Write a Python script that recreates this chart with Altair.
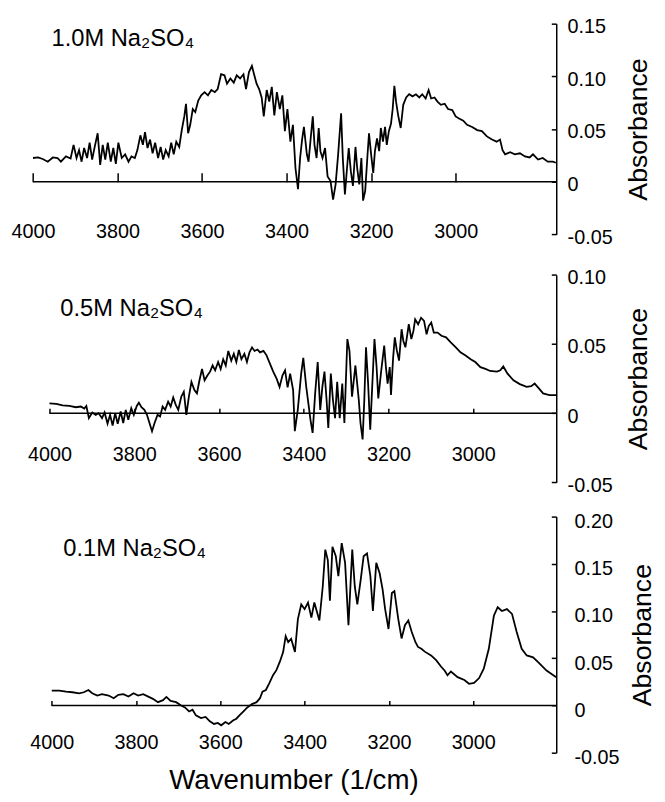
import altair as alt
import pandas as pd

# ---------------- data ----------------
WN_10 = [4000, 3988, 3977, 3965, 3953, 3942, 3934, 3922, 3911, 3904, 3897, 3891, 3885, 3879, 3872, 3866,
         3860, 3854, 3847, 3841, 3835, 3829, 3823, 3816, 3810, 3804, 3798, 3790, 3782, 3774, 3767, 3759,
         3753, 3746, 3740, 3735, 3729, 3723, 3717, 3711, 3704, 3698, 3692, 3686, 3679, 3673, 3667, 3661,
         3654, 3648, 3642, 3638, 3633, 3628, 3622, 3616, 3609, 3602, 3594, 3586, 3578, 3570, 3563, 3555,
         3547, 3541, 3533, 3525, 3518, 3510, 3502, 3496, 3489, 3482, 3477, 3471, 3465, 3459, 3454, 3447,
         3441, 3435, 3429, 3423, 3416, 3410, 3404, 3398, 3391, 3385, 3379, 3373, 3368, 3363, 3359, 3352,
         3348, 3343, 3338, 3334, 3329, 3324, 3320, 3315, 3309, 3303, 3296, 3290, 3284, 3278, 3271, 3267,
         3262, 3257, 3253, 3248, 3243, 3237, 3233, 3228, 3223, 3219, 3214, 3209, 3205, 3200, 3195, 3191,
         3186, 3181, 3177, 3172, 3167, 3163, 3158, 3153, 3149, 3145, 3141, 3136, 3130, 3124, 3117, 3110,
         3102, 3094, 3086, 3079, 3071, 3064, 3058, 3050, 3043, 3035, 3026, 3018, 3008, 3000, 2992, 2982,
         2973, 2961, 2949, 2938, 2926, 2914, 2903, 2895, 2889, 2883, 2871, 2860, 2848, 2836, 2825, 2817,
         2805, 2794, 2782, 2770, 2763]
AB_10 = [0.0225, 0.023, 0.0216, 0.019, 0.023, 0.0225, 0.019, 0.024, 0.022, 0.035, 0.0225, 0.030, 0.019, 0.032, 0.0225, 0.037,
         0.021, 0.033, 0.046, 0.016, 0.035, 0.021, 0.037, 0.019, 0.032, 0.017, 0.037, 0.0225, 0.026, 0.019, 0.024, 0.0225,
         0.030, 0.044, 0.035, 0.047, 0.032, 0.040, 0.027, 0.037, 0.0225, 0.033, 0.021, 0.030, 0.024, 0.037, 0.026, 0.038,
         0.033, 0.049, 0.062, 0.074, 0.046, 0.054, 0.069, 0.066, 0.077, 0.082, 0.085, 0.082, 0.087, 0.085, 0.088, 0.102,
         0.101, 0.093, 0.098, 0.094, 0.101, 0.098, 0.102, 0.088, 0.104, 0.110, 0.102, 0.093, 0.088, 0.080, 0.062, 0.087,
         0.076, 0.090, 0.063, 0.085, 0.069, 0.082, 0.048, 0.069, 0.038, 0.054, 0.013, -0.007, 0.0225, 0.041, 0.052, 0.026,
         0.019, 0.041, 0.062, 0.035, 0.0225, 0.051, 0.029, 0.0225, 0.032, 0.005, 0.0006, -0.017, -0.0025, 0.026, 0.065, 0.0225,
         -0.012, 0.013, 0.032, 0.010, -0.004, 0.033, 0.013, -0.0025, 0.0225, -0.018, -0.0088, 0.0225, 0.046, 0.026, 0.0084, 0.029,
         0.041, 0.029, 0.051, 0.038, 0.052, 0.035, 0.048, 0.055, 0.069, 0.091, 0.076, 0.063, 0.051, 0.073, 0.080, 0.083,
         0.081, 0.083, 0.080, 0.083, 0.079, 0.087, 0.079, 0.080, 0.076, 0.073, 0.074, 0.069, 0.068, 0.062, 0.060, 0.058,
         0.054, 0.052, 0.049, 0.048, 0.043, 0.040, 0.038, 0.040, 0.030, 0.026, 0.028, 0.026, 0.027, 0.024, 0.023, 0.026,
         0.021, 0.0225, 0.019, 0.019, 0.018]

WN_05 = [4000, 3984, 3969, 3953, 3938, 3926, 3918, 3913, 3907, 3899, 3891, 3884, 3876, 3870, 3863, 3857,
         3851, 3845, 3839, 3832, 3826, 3820, 3814, 3807, 3801, 3794, 3789, 3783, 3776, 3770, 3764, 3758,
         3752, 3745, 3739, 3733, 3727, 3720, 3714, 3708, 3702, 3696, 3689, 3683, 3677, 3671, 3665, 3658,
         3652, 3646, 3640, 3634, 3627, 3621, 3615, 3609, 3602, 3596, 3590, 3584, 3578, 3571, 3565, 3559,
         3553, 3547, 3540, 3534, 3528, 3522, 3516, 3509, 3503, 3495, 3488, 3480, 3472, 3464, 3457, 3450,
         3444, 3438, 3432, 3425, 3421, 3414, 3406, 3401, 3394, 3388, 3384, 3379, 3373, 3367, 3361, 3356,
         3351, 3346, 3342, 3336, 3331, 3326, 3321, 3315, 3309, 3304, 3297, 3292, 3286, 3278, 3270, 3266,
         3261, 3257, 3253, 3248, 3243, 3238, 3233, 3228, 3224, 3217, 3210, 3206, 3202, 3197, 3194, 3189,
         3185, 3180, 3175, 3169, 3165, 3160, 3152, 3146, 3141, 3137, 3130, 3123, 3116, 3110, 3105, 3099,
         3093, 3084, 3075, 3064, 3053, 3041, 3030, 3018, 3006, 2995, 2983, 2971, 2960, 2944, 2936, 2929,
         2919, 2905, 2890, 2874, 2863, 2855, 2845, 2835, 2820, 2804]
AB_05 = [0.0071, 0.0067, 0.0057, 0.0052, 0.0043, 0.0048, 0.0033, 0.0052, -0.0036, 0.0005, -0.0012, 0.0, -0.0036, 0.0005, -0.0076, -0.0012,
         -0.009, 0.0, -0.0076, 0.0012, -0.0071, 0.0024, -0.0048, 0.0036, -0.0012, 0.0052, 0.0076, 0.0043, 0.0024, -0.0012, -0.0071, -0.013,
         -0.0071, -0.0012, -0.0024, 0.0048, 0.0024, 0.0083, 0.0048, 0.0114, 0.006, 0.0024, 0.0119, 0.0155, -0.0012, 0.0119, 0.0226, 0.0167,
         0.0143, 0.0238, 0.032, 0.0238, 0.0274, 0.030, 0.0345, 0.031, 0.037, 0.032, 0.039, 0.0345, 0.045, 0.038, 0.043, 0.037,
         0.0457, 0.039, 0.043, 0.037, 0.044, 0.0476, 0.045, 0.046, 0.044, 0.045, 0.042, 0.036, 0.030, 0.025, 0.019, 0.0274,
         0.031, 0.0186, 0.0286, 0.0167, -0.013, 0.0024, 0.0286, 0.040, 0.019, 0.0048, -0.0048, -0.0143, 0.0143, 0.037, 0.0024, 0.019,
         0.030, 0.0095, -0.0107, 0.0286, 0.0095, -0.0036, 0.0226, -0.0036, 0.0214, -0.0071, 0.0536, 0.045, 0.0119, 0.0345, 0.0095, -0.0071,
         -0.019, 0.0095, 0.0476, 0.0214, -0.0119, 0.0214, 0.0536, 0.0333, 0.0107, 0.031, 0.0488, 0.0333, 0.0214, 0.0333, 0.0131, 0.040,
         0.0548, 0.045, 0.038, 0.0607, 0.0524, 0.0476, 0.0643, 0.0536, 0.0595, 0.0679, 0.0643, 0.069, 0.0667, 0.057, 0.063, 0.0655,
         0.0583, 0.0583, 0.056, 0.0548, 0.0512, 0.0476, 0.044, 0.0417, 0.039, 0.037, 0.0333, 0.032, 0.0305, 0.030, 0.031, 0.0338,
         0.0286, 0.0238, 0.021, 0.019, 0.0195, 0.0214, 0.0179, 0.0143, 0.0131, 0.0131]

WN_01 = [4000, 3982, 3966, 3951, 3935, 3924, 3913, 3904, 3892, 3881, 3865, 3853, 3842, 3830, 3818, 3806,
         3795, 3783, 3771, 3760, 3748, 3736, 3728, 3718, 3705, 3693, 3684, 3674, 3666, 3658, 3646, 3635,
         3625, 3615, 3606, 3598, 3588, 3580, 3570, 3562, 3553, 3545, 3536, 3525, 3514, 3506, 3500, 3492,
         3484, 3475, 3467, 3459, 3451, 3445, 3439, 3432, 3423, 3416, 3408, 3400, 3392, 3384, 3377, 3365,
         3357, 3351, 3345, 3340, 3334, 3326, 3320, 3312, 3304, 3296, 3287, 3281, 3275, 3267, 3260, 3252,
         3244, 3238, 3230, 3222, 3215, 3209, 3201, 3193, 3187, 3178, 3170, 3162, 3154, 3146, 3137, 3131,
         3123, 3115, 3100, 3088, 3076, 3068, 3061, 3053, 3037, 3021, 3010, 2998, 2986, 2975, 2963, 2951,
         2942, 2932, 2920, 2908, 2897, 2885, 2873, 2858, 2846, 2826, 2803]
AB_01 = [0.0157, 0.0157, 0.0147, 0.014, 0.0129, 0.014, 0.0164, 0.0129, 0.0105, 0.0119, 0.0105, 0.0077, 0.0112, 0.0119, 0.0094, 0.0129,
         0.0105, 0.0119, 0.0094, 0.007, 0.0035, 0.0056, 0.0091, 0.0049, 0.0035, 0.0, -0.0021, -0.0063, -0.0045, -0.0105, -0.0133, -0.0122,
         -0.0168, -0.0196, -0.0185, -0.021, -0.0175, -0.0196, -0.016, -0.014, -0.0098, -0.0063, -0.0021, 0.0014, 0.0035, 0.0077, 0.0147, 0.0164,
         0.0234, 0.0321, 0.0374, 0.0461, 0.0566, 0.0734, 0.0671, 0.0706, 0.0566, 0.0915, 0.107, 0.102, 0.109, 0.093, 0.109, 0.090,
         0.126, 0.165, 0.154, 0.111, 0.168, 0.158, 0.137, 0.172, 0.151, 0.085, 0.165, 0.126, 0.107, 0.133, 0.158, 0.161,
         0.137, 0.100, 0.151, 0.140, 0.123, 0.102, 0.081, 0.119, 0.121, 0.092, 0.071, 0.085, 0.090, 0.078, 0.067, 0.062,
         0.060, 0.057, 0.053, 0.048, 0.041, 0.037, 0.032, 0.036, 0.030, 0.027, 0.023, 0.024, 0.029, 0.039, 0.060, 0.095,
         0.104, 0.100, 0.102, 0.097, 0.078, 0.060, 0.053, 0.051, 0.046, 0.037, 0.030]

X_TICKS = [4000, 3800, 3600, 3400, 3200, 3000]
Y_TICKS = [[-0.05, 0, 0.05, 0.10, 0.15],
           [-0.05, 0, 0.05, 0.10],
           [-0.05, 0, 0.05, 0.10, 0.15, 0.20]]
PANEL_LABELS = ["1.0M Na\u2082SO\u2084", "0.5M Na\u2082SO\u2084", "0.1M Na\u2082SO\u2084"]
Y_TITLE = "Absorbance"
X_TITLE = "Wavenumber (1/cm)"

# ---------------- layout ----------------
W, H = 555, 790
FONT = "Liberation Sans"
LAYOUT = [
    dict(wn=WN_10, ab=AB_10, xdom=[4000, 2762], xr=[25.3, W], ydom=[-0.05, 0.15], yr=[224.3, 11],
         tick=9, lab_y=221, lab_pad=11, lab_off=3, tx=83, lx=44, ly=34),
    dict(wn=WN_05, ab=AB_05, xdom=[4000, 2804], xr=[42, W], ydom=[-0.05, 0.10], yr=[475.3, 265.3],
         tick=5, lab_y=447, lab_pad=11, lab_off=3, tx=83, lx=53, ly=307),
    dict(wn=WN_01, ab=AB_01, xdom=[4000, 2803], xr=[44.3, W], ydom=[-0.05, 0.20], yr=[749, 510],
         tick=5, lab_y=739, lab_pad=18, lab_off=5, tx=87, lx=56, ly=550),
]

YLABEL_EXPR = ("abs(datum.value) < 1e-9 ? '0' : (datum.value < 0 ? '-' + format(-datum.value, '.2f')"
               " : format(datum.value, '.2f'))")

layers = []
for i, p in enumerate(LAYOUT):
    xs = alt.Scale(domain=p["xdom"], range=p["xr"], nice=False, zero=False)
    ys = alt.Scale(domain=p["ydom"], range=p["yr"], nice=False, zero=False)
    y0, y1 = p["ydom"]
    zero_px = p["yr"][0] + (0 - y0) / (y1 - y0) * (p["yr"][1] - p["yr"][0])
    mid_y = (p["yr"][0] + p["yr"][1]) / 2

    xaxis_kw = dict(orient="bottom", offset=p["lab_y"] - H, values=X_TICKS, format="d",
                    domain=False, ticks=False, tickSize=0, grid=False, labelPadding=0,
                    labelBaseline="middle", labelFlush=False, labelOverlap=False,
                    labelFontSize=20, labelFont=FONT, labelColor="black")
    if i == 2:
        xaxis_kw.update(title=X_TITLE, titleFont=FONT, titleFontSize=28, titleFontWeight="normal",
                        titleColor="black", titleX=289, titleY=38, titleAlign="center",
                        titleBaseline="middle")
    else:
        xaxis_kw.update(title=None)

    df = pd.DataFrame({"wn": p["wn"], "ab": p["ab"]})
    line = alt.Chart(df).mark_line(color="black", strokeWidth=1.8).encode(
        x=alt.X("wn:Q", scale=xs, axis=alt.Axis(**xaxis_kw)),
        y=alt.Y("ab:Q", scale=ys, axis=alt.Axis(
            orient="right", values=Y_TICKS[i], labelExpr=YLABEL_EXPR,
            domain=True, domainColor="black", domainWidth=1.5,
            ticks=False, tickSize=0, grid=False,
            labelPadding=p["lab_pad"], labelAlign="left", labelBaseline="middle",
            labelOffset=p["lab_off"], labelFlush=False, labelOverlap=False,
            labelFontSize=20, labelFont=FONT, labelColor="black",
            title=Y_TITLE, titleFont=FONT, titleFontSize=27, titleFontWeight="normal",
            titleColor="black", titleAngle=270, titleX=p["tx"], titleY=mid_y,
            titleAlign="center", titleBaseline="middle")),
    )

    zdf = pd.DataFrame({"a": [4000], "b": [p["xdom"][1]], "z": [0.0]})
    rule = alt.Chart(zdf).mark_rule(color="black", strokeWidth=1.5).encode(
        x=alt.X("a:Q", scale=xs, axis=alt.Axis(
            orient="top", offset=-zero_px, values=X_TICKS, domain=False, ticks=True,
            tickSize=p["tick"], tickColor="black", tickWidth=1.5, labels=False,
            grid=False, title=None)),
        x2="b:Q",
        y=alt.Y("z:Q", scale=ys, axis=alt.Axis(
            orient="left", offset=-W, values=Y_TICKS[i], domain=False, ticks=True,
            tickSize=5, tickColor="black", tickWidth=1.5, labels=False,
            grid=False, title=None)),
    )

    tdf = pd.DataFrame({"t": [PANEL_LABELS[i]]})
    txt = alt.Chart(tdf).mark_text(align="left", baseline="alphabetic", fontSize=24,
                                   font=FONT, color="black").encode(
        text="t:N", x=alt.value(p["lx"]), y=alt.value(p["ly"]))

    layers += [line, rule, txt]

chart = alt.layer(*layers).resolve_scale(
    x="independent", y="independent"
).resolve_axis(
    x="independent", y="independent"
).properties(
    width=W, height=H,
    autosize=alt.AutoSizeParams(type="none"),
    padding={"left": 0, "top": 0, "right": 102, "bottom": 0},
).configure(font=FONT).configure_view(strokeWidth=0)

chart.save("out.html", embed_options={"renderer": "svg", "actions": False})
